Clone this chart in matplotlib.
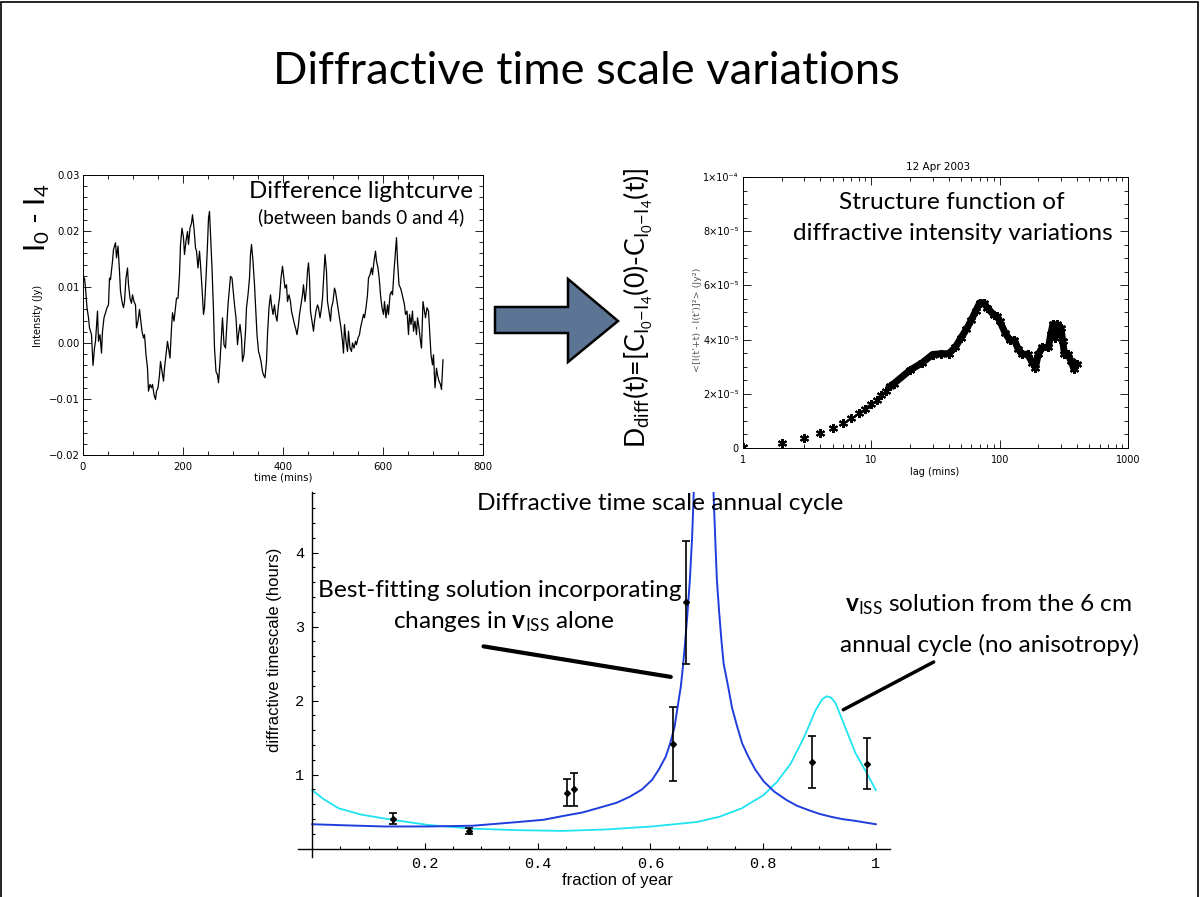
import matplotlib
matplotlib.use("Agg")
import numpy as np
import matplotlib.pyplot as plt
from matplotlib.patches import Polygon, Rectangle
from matplotlib.ticker import MultipleLocator, FixedLocator, LogLocator, NullFormatter

plt.rcParams['font.family'] = ['Lato', 'DejaVu Sans']
plt.rcParams['mathtext.fontset'] = 'custom'
plt.rcParams['mathtext.rm'] = 'Lato'
plt.rcParams['mathtext.it'] = 'Lato:italic'
plt.rcParams['mathtext.bf'] = 'Lato:bold'

W, H = 1200, 897

# --- Difference lightcurve I0 - I4 (time in mins, intensity in Jy) ---
lc_time = [3, 5, 8, 11, 13, 17, 20, 23, 25, 29, 31, 34, 37, 39, 42, 45, 48, 51, 53, 55,
           59, 61, 65, 67, 70, 73, 75, 78, 81, 83, 86, 89, 91, 94, 97, 99, 102, 105, 107, 110,
           113, 115, 118, 121, 123, 126, 129, 131, 134, 137, 139, 142, 145, 147, 150, 153, 155, 158, 161, 163,
           166, 169, 171, 174, 177, 179, 182, 185, 187, 190, 193, 195, 198, 201, 203, 206, 209, 211, 214, 217,
           219, 222, 225, 227, 230, 233, 235, 238, 241, 243, 246, 249, 251, 253, 255, 258, 261, 263, 266, 269,
           271, 274, 277, 279, 282, 285, 287, 290, 293, 295, 298, 301, 303, 306, 309, 311, 314, 317, 319, 322,
           325, 327, 330, 333, 335, 337, 340, 343, 345, 348, 351, 353, 356, 359, 361, 364, 367, 369, 372, 375,
           377, 380, 383, 385, 388, 391, 393, 396, 399, 401, 404, 407, 409, 412, 415, 417, 420, 423, 425, 428,
           431, 433, 436, 439, 441, 444, 447, 449, 451, 453, 455, 458, 461, 463, 466, 469, 471, 474, 477, 479,
           482, 484, 487, 489, 492, 495, 497, 500, 503, 505, 508, 511, 513, 516, 519, 521, 523, 526, 529, 531,
           534, 537, 539, 542, 545, 547, 550, 553, 555, 558, 561, 563, 566, 569, 571, 574, 577, 579, 582, 585,
           587, 590, 593, 595, 598, 601, 603, 606, 609, 611, 614, 617, 619, 622, 625, 627, 629, 632, 635, 637,
           640, 643, 645, 648, 651, 653, 656, 659, 661, 664, 667, 669, 672, 675, 677, 680, 683, 685, 688, 691,
           693, 696, 699, 701, 704, 707, 709, 712, 715, 717, 720]
lc_flux = [0.0116, 0.0098, 0.0063, 0.0045, 0.0027, 0.0015, -0.0040, -0.0009, 0.0003, 0.0057,
           0.0003, 0.0015, -0.0018, 0.0021, 0.0045, 0.0054, 0.0063, 0.0068, 0.0116, 0.0113,
           0.0146, 0.0167, 0.0179, 0.0152, 0.0173, 0.0128, 0.0092, 0.0074, 0.0063, 0.0074,
           0.0116, 0.0134, 0.0104, 0.0080, 0.0071, 0.0086, 0.0074, 0.0068, 0.0027, 0.0039,
           0.0060, 0.0045, 0.0021, 0.0009, 0.0015, -0.0021, -0.0045, -0.0086, -0.0074, -0.0080,
           -0.0074, -0.0092, -0.0101, -0.0086, -0.0080, -0.0057, -0.0033, -0.0051, -0.0068, -0.0045,
           -0.0021, 0.0003, -0.0009, -0.0027, 0.0027, 0.0054, 0.0039, 0.0063, 0.0080, 0.0080,
           0.0122, 0.0176, 0.0205, 0.0188, 0.0158, 0.0182, 0.0199, 0.0176, 0.0205, 0.0214,
           0.0229, 0.0205, 0.0170, 0.0164, 0.0134, 0.0164, 0.0140, 0.0098, 0.0051, 0.0063,
           0.0116, 0.0176, 0.0223, 0.0235, 0.0194, 0.0134, 0.0057, -0.0009, -0.0051, -0.0057,
           -0.0071, -0.0033, 0.0015, 0.0045, -0.0003, -0.0009, 0.0021, 0.0068, 0.0098, 0.0119,
           0.0116, 0.0086, 0.0068, 0.0045, -0.0003, 0.0015, 0.0033, 0.0009, -0.0033, -0.0021,
           0.0021, 0.0063, 0.0086, 0.0116, 0.0158, 0.0176, 0.0146, 0.0104, 0.0068, 0.0015,
           -0.0015, -0.0021, -0.0033, -0.0051, -0.0057, -0.0062, -0.0033, 0.0015, 0.0063, 0.0086,
           0.0068, 0.0051, 0.0068, 0.0051, 0.0039, 0.0068, 0.0080, 0.0116, 0.0137, 0.0122,
           0.0098, 0.0104, 0.0074, 0.0086, 0.0074, 0.0057, 0.0045, 0.0033, 0.0027, 0.0015,
           0.0033, 0.0051, 0.0068, 0.0086, 0.0104, 0.0074, 0.0098, 0.0128, 0.0143, 0.0116,
           0.0057, 0.0039, 0.0021, 0.0039, 0.0057, 0.0068, 0.0063, 0.0045, 0.0063, 0.0080,
           0.0128, 0.0158, 0.0128, 0.0074, 0.0057, 0.0039, 0.0063, 0.0074, 0.0098, 0.0092,
           0.0074, 0.0057, 0.0045, 0.0027, 0.0003, -0.0018, 0.0033, 0.0003, -0.0015, 0.0021,
           -0.0009, -0.0015, 0.0000, -0.0009, 0.0003, -0.0003, 0.0009, 0.0015, 0.0027, 0.0039,
           0.0051, 0.0045, 0.0063, 0.0086, 0.0116, 0.0122, 0.0134, 0.0122, 0.0146, 0.0164,
           0.0146, 0.0134, 0.0110, 0.0086, 0.0063, 0.0051, 0.0074, 0.0045, 0.0068, 0.0051,
           0.0086, 0.0092, 0.0086, 0.0128, 0.0164, 0.0188, 0.0146, 0.0104, 0.0098, 0.0092,
           0.0080, 0.0068, 0.0051, 0.0057, 0.0015, 0.0051, 0.0033, 0.0057, 0.0021, 0.0039,
           0.0015, 0.0045, 0.0027, 0.0003, -0.0009, 0.0074, 0.0057, 0.0045, 0.0063, 0.0057,
           0.0027, -0.0021, -0.0039, -0.0021, -0.0080, -0.0045, -0.0057, -0.0068, -0.0074, -0.0083,
           -0.0030]

# --- Structure function, 12 Apr 2003 (lag in mins, value in Jy^2) ---
sf_lag = [1, 2, 3, 4, 5, 6, 7, 8, 9, 10, 11, 12, 13, 14,
          15, 20, 25, 30, 35, 40, 45, 50, 55, 60, 65, 70, 75, 80, 90, 95, 100,
          110, 120, 130, 140, 150, 165, 180, 190, 200, 215, 240, 250, 260, 270,
          280, 300, 310, 320, 340, 360, 380, 400]
sf_val = [0.05, 0.17, 0.37, 0.54, 0.74, 0.93, 1.10, 1.28, 1.44, 1.62, 1.78, 1.94, 2.11, 2.27,
          2.38, 2.87, 3.15, 3.45, 3.48, 3.48, 3.71, 4.07, 4.38, 4.71, 5.06, 5.36, 5.36, 5.18, 4.91, 4.87, 4.69,
          4.26, 3.98, 3.98, 3.64, 3.46, 3.46, 3.15, 2.97, 3.46, 3.71, 3.71, 4.20, 4.56, 4.07,
          4.56, 4.44, 3.95, 3.46, 3.46, 3.21, 2.91, 3.09]   # x 1e-5
sf_yticks = [0, 2e-5, 4e-5, 6e-5, 8e-5, 1e-4]
sf_yticklabels = ['0', '2×10⁻⁵', '4×10⁻⁵', '6×10⁻⁵', '8×10⁻⁵', '1×10⁻⁴']

# --- Annual cycle of the diffractive timescale ---
fit_x = [0.0, 0.06, 0.126, 0.206, 0.285, 0.365, 0.41, 0.444, 0.48, 0.508, 0.54, 0.563, 0.585,
         0.603, 0.615, 0.627, 0.635, 0.643, 0.648, 0.654, 0.658, 0.662, 0.666, 0.670, 0.674,
         0.677, 0.684, 0.695, 0.706, 0.712, 0.715, 0.718, 0.722, 0.726, 0.730, 0.738, 0.745,
         0.754, 0.763, 0.774, 0.786, 0.801, 0.82, 0.841, 0.86, 0.881, 0.90, 0.921, 0.94, 0.960, 0.98, 1.0]
fit_y = [0.33, 0.315, 0.30, 0.30, 0.31, 0.36, 0.39, 0.44, 0.49, 0.55, 0.62, 0.70, 0.80,
         0.93, 1.07, 1.24, 1.42, 1.65, 1.90, 2.19, 2.48, 2.82, 3.20, 3.63, 4.20,
         4.82, 6.2, 8.0, 6.2, 4.82, 4.20, 3.63, 3.20, 2.82, 2.50, 2.19, 1.90,
         1.65, 1.42, 1.24, 1.07, 0.91, 0.77, 0.66, 0.58, 0.52, 0.47, 0.43, 0.40, 0.38, 0.355, 0.33]
iso_x = [0.0, 0.02, 0.047, 0.087, 0.142, 0.206, 0.285, 0.365, 0.444, 0.523, 0.603, 0.682,
         0.722, 0.762, 0.801, 0.825, 0.849, 0.873, 0.893, 0.905, 0.913, 0.921, 0.929, 0.944,
         0.964, 0.984, 1.0]
iso_y = [0.79, 0.67, 0.545, 0.46, 0.39, 0.32, 0.27, 0.25, 0.24, 0.26, 0.30, 0.36,
         0.43, 0.545, 0.725, 0.905, 1.15, 1.51, 1.87, 2.02, 2.06, 2.04, 1.96, 1.67,
         1.29, 1.02, 0.79]
obs_x = [0.144, 0.279, 0.452, 0.465, 0.641, 0.663, 0.886, 0.985]
obs_y = [0.405, 0.24, 0.757, 0.80, 1.41, 3.34, 1.17, 1.15]
obs_lo = [0.33, 0.20, 0.57, 0.58, 0.91, 2.50, 0.82, 0.80]
obs_hi = [0.48, 0.275, 0.94, 1.02, 1.92, 4.16, 1.52, 1.50]

fig = plt.figure(figsize=(12, 8.97), dpi=100)


def box(l, t, r, b):
    # axes from pixel edges of the slide
    return fig.add_axes([l / W, 1 - b / H, (r - l) / W, (b - t) / H])


def ftext(x, y, s, **kw):
    kw.setdefault('ha', 'center')
    kw.setdefault('va', 'center')
    return fig.text(x / W, 1 - y / H, s, **kw)


# slide frame and title
fig.add_artist(Rectangle((0.001, -0.01), 0.997, 1.008, transform=fig.transFigure,
                         fill=False, edgecolor='black', linewidth=1.2))
ftext(586, 72, 'Diffractive time scale variations', fontsize=32.6)

idl = 'DejaVu Sans'

# ---------- top left: lightcurve ----------
ax1 = box(83, 175, 483, 455)
ax1.plot(lc_time, lc_flux, color='black', linewidth=0.9)
ax1.set_xlim(0, 800)
ax1.set_ylim(-0.02, 0.03)
ax1.xaxis.set_major_locator(MultipleLocator(200))
ax1.xaxis.set_minor_locator(MultipleLocator(50))
ax1.set_yticks([-0.02, -0.01, 0.0, 0.01, 0.02, 0.03])
ax1.set_yticklabels(['−0.02', '−0.01', '0.00', '0.01', '0.02', '0.03'])
ax1.yaxis.set_minor_locator(MultipleLocator(0.002))
ax1.tick_params(which='both', direction='in', top=True, right=True, width=0.6,
                labelsize=7.3, labelfontfamily=idl)
ax1.tick_params(which='major', length=6)
ax1.tick_params(which='minor', length=3)
ax1.tick_params(axis='y', pad=2.5)
ax1.tick_params(axis='x', pad=5)
for s in ax1.spines.values():
    s.set_linewidth(0.7)
ftext(283, 477, 'time (mins)', fontsize=7.3, family=idl)
ftext(38, 316, 'Intensity (Jy)', fontsize=7, family=idl, rotation=90)
ftext(37, 218, r'I$_0$ - I$_4$', fontsize=21, rotation=90)
ftext(473, 191, 'Difference lightcurve', fontsize=17.3, ha='right')
ftext(464, 217, '(between bands 0 and 4)', fontsize=13.8, ha='right')

# ---------- arrow ----------
arrow_px = [(495, 307), (568, 307), (568, 279), (618, 321), (568, 362), (568, 333), (495, 333)]
fig.add_artist(Polygon([(x / W, 1 - y / H) for x, y in arrow_px], closed=True,
                       transform=fig.transFigure, facecolor='#5d7595',
                       edgecolor='black', linewidth=1.8))

ftext(638, 308, r'D$_{\mathrm{diff}}$(t)=[C$_{\mathrm{I_0{-}I_4}}$(0)-C$_{\mathrm{I_0{-}I_4}}$(t)]',
      fontsize=19.2, rotation=90)

# ---------- top right: structure function ----------
ax2 = box(743, 177, 1128, 448)
sf = np.array(sf_val) * 1e-5
ax2.plot(sf_lag[13:], sf[13:], color='black', linewidth=5, solid_joinstyle='round')
ax2.plot(sf_lag, sf, linestyle='none', marker=(6, 2, 0), markersize=6.5,
         markeredgewidth=1.5, color='black')
ax2.set_xscale('log')
ax2.set_xlim(1, 1000)
ax2.set_ylim(0, 1e-4)
ax2.set_xticks([1, 10, 100, 1000])
ax2.set_xticklabels(['1', '10', '100', '1000'])
ax2.xaxis.set_minor_locator(LogLocator(base=10, subs=np.arange(2, 10)))
ax2.xaxis.set_minor_formatter(NullFormatter())
ax2.set_yticks(sf_yticks)
ax2.set_yticklabels(sf_yticklabels)
ax2.yaxis.set_minor_locator(MultipleLocator(0.5e-5))
ax2.tick_params(which='both', direction='in', top=True, right=True, width=0.6,
                labelsize=7, labelfontfamily=idl)
ax2.tick_params(which='major', length=6)
ax2.tick_params(which='minor', length=3)
ax2.tick_params(axis='y', pad=3)
ax2.tick_params(axis='x', pad=5)
for s in ax2.spines.values():
    s.set_linewidth(0.7)
ftext(938, 167, '12 Apr 2003', fontsize=7.5, family=idl)
ftext(935, 472, 'lag (mins)', fontsize=7, family=idl)
ftext(697, 320, "<[I(t'+t) - I(t')]²> (Jy²)", fontsize=6.8, family=idl, rotation=90,
      color='#555555')
ftext(952, 202, 'Structure function of', fontsize=17.6)
ftext(953, 233, 'diffractive intensity variations', fontsize=17.6)

# ---------- bottom: annual cycle ----------
ax3 = box(297.6, 492, 889.9, 856.8)
ax3.set_xlim(-0.026, 1.025)
ax3.set_ylim(-0.11, 4.82)
ax3.plot(iso_x, iso_y, color='#1ee3f0', linewidth=1.3)
ax3.plot(fit_x, fit_y, color='#1f3ddc', linewidth=1.4)
obs_err = [np.array(obs_y) - np.array(obs_lo), np.array(obs_hi) - np.array(obs_y)]
ax3.errorbar(obs_x, obs_y, yerr=obs_err, fmt='D', markersize=3, color='black',
             ecolor='black', elinewidth=1.2, capsize=3, capthick=1.2)
for side in ['top', 'right']:
    ax3.spines[side].set_visible(False)
ax3.spines['left'].set_position(('data', 0))
ax3.spines['bottom'].set_position(('data', 0))
ax3.spines['left'].set_linewidth(1.0)
ax3.spines['bottom'].set_linewidth(1.0)
ax3.set_xticks([0.2, 0.4, 0.6, 0.8, 1.0])
ax3.set_xticklabels(['0.2', '0.4', '0.6', '0.8', '1'])
ax3.xaxis.set_minor_locator(MultipleLocator(0.05))
ax3.set_yticks([1, 2, 3, 4])
ax3.set_yticklabels(['1', '2', '3', '4'])
ax3.yaxis.set_minor_locator(FixedLocator(np.arange(0.2, 4.81, 0.2)))
ax3.tick_params(which='both', direction='in', width=0.8, labelsize=11,
                labelfontfamily='Liberation Mono')
ax3.tick_params(which='major', length=4)
ax3.tick_params(which='minor', length=2.5)
ax3.tick_params(axis='x', pad=6)
ax3.tick_params(axis='y', pad=6)
ftext(275, 650, 'diffractive timescale (hours)', fontsize=12, family='Liberation Sans',
      rotation=90)
ftext(617, 880, 'fraction of year', fontsize=12, family='Liberation Sans')

ftext(660, 504, 'Diffractive time scale annual cycle', fontsize=17.6)
ftext(500, 590, 'Best-fitting solution incorporating', fontsize=17.6)
ftext(504, 621, r'changes in $\mathbf{v}_{\mathrm{ISS}}$ alone', fontsize=17.6)
ftext(988, 605, r'$\mathbf{v}_{\mathrm{ISS}}$ solution from the 6 cm', fontsize=17.6)
ftext(990, 645, 'annual cycle (no anisotropy)', fontsize=17.6)

# pointer lines
ax3.annotate('', xy=(0.641, 2.315), xytext=(0.299, 2.74),
             arrowprops=dict(arrowstyle='-', color='black', linewidth=3))
ax3.annotate('', xy=(0.938, 1.86), xytext=(1.107, 2.54), annotation_clip=False,
             arrowprops=dict(arrowstyle='-', color='black', linewidth=2.5))

fig.savefig('out.png', dpi=100)
